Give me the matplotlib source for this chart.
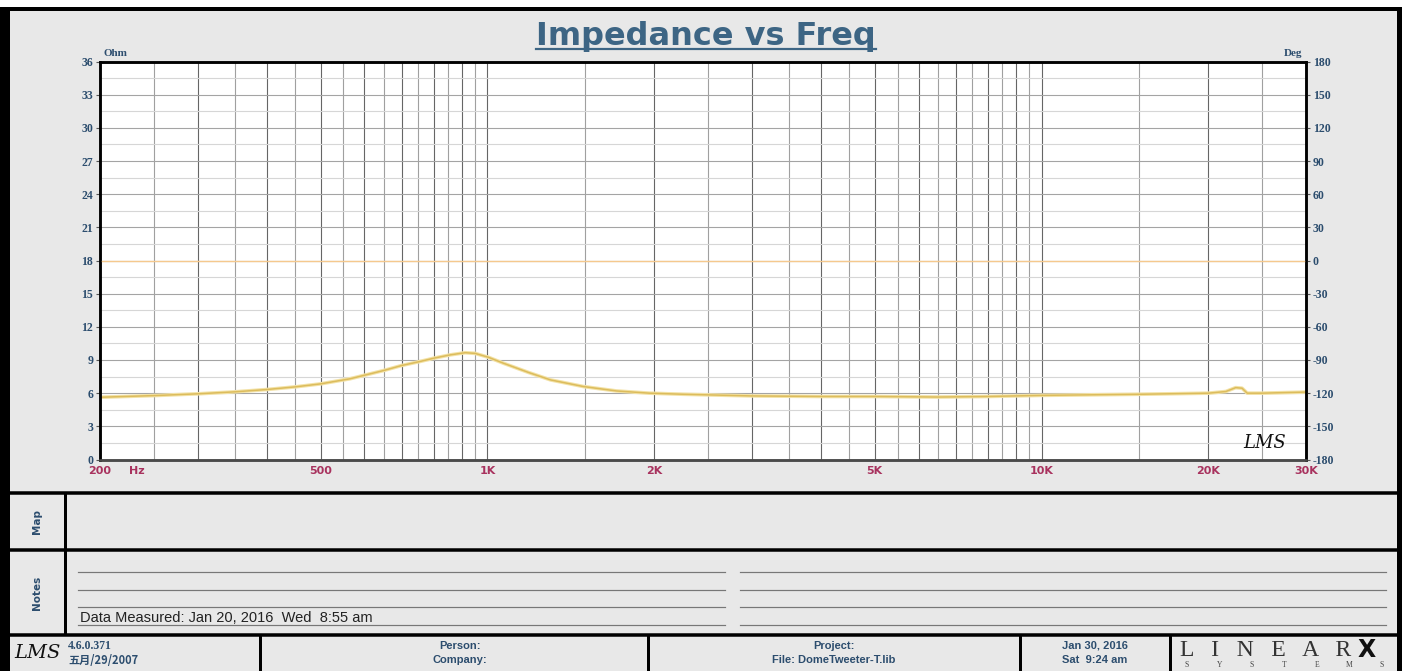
import matplotlib
matplotlib.use("Agg")
import matplotlib.pyplot as plt
import numpy as np
from matplotlib.patches import Rectangle

# impedance curve
freq_hz = [200, 250, 300, 350, 400, 450, 500, 565, 650, 700, 755, 800, 856, 912, 950,
           1004, 1070, 1190, 1300, 1490, 1710, 1960, 2260, 3000, 4000, 5000, 6500, 8000,
           10000, 15000, 20000, 21500, 22400, 23000, 23500, 25000, 30000]
impedance_ohm = [5.63, 5.78, 5.94, 6.12, 6.33, 6.57, 6.84, 7.3, 8.05, 8.5, 8.86, 9.16, 9.46, 9.66, 9.6,
                 9.25, 8.7, 7.85, 7.2, 6.6, 6.2, 6.0, 5.9, 5.75, 5.7, 5.7, 5.65, 5.7,
                 5.8, 5.9, 6.0, 6.15, 6.5, 6.45, 6.0, 6.0, 6.1]
phase_freq_hz = [200, 1000, 10000, 30000]
phase_deg = [0, 0, 0, 0]

x_tick_hz = [200, 500, 1000, 2000, 5000, 10000, 20000, 30000]
x_tick_labels = ["200", "500", "1K", "2K", "5K", "10K", "20K", "30K"]
ohm_ticks = list(range(0, 37, 3))
deg_ticks = list(range(-180, 181, 30))

W, H = 1411, 671
PANEL = "#e8e8e8"
BLUE = "#2c4d6e"
MAROON = "#a8325e"


def fig_box(x0, y0, x1, y1):
    return [x0 / W, 1 - y1 / H, (x1 - x0) / W, (y1 - y0) / H]


def px(v):
    # pixels -> points at dpi 100
    return v * 0.72


fig = plt.figure(figsize=(W / 100, H / 100), dpi=100)
fig.patch.set_facecolor("white")

bg = fig.add_axes([0, 0, 1, 1])
bg.set_xlim(0, W)
bg.set_ylim(H, 0)
bg.axis("off")

# frame and panels
bg.add_patch(Rectangle((10, 10), 1387, 661, facecolor=PANEL, edgecolor="none"))
bg.add_patch(Rectangle((0, 7), 10, 664, facecolor="black", edgecolor="none"))
bg.add_patch(Rectangle((1397, 7), 5, 664, facecolor="black", edgecolor="none"))
bg.add_patch(Rectangle((0, 7), 1402, 4, facecolor="black", edgecolor="none"))
for y in (493, 550, 635):
    bg.plot([10, 1397], [y, y], color="black", lw=px(3.5), solid_capstyle="butt")
bg.plot([65, 65], [493, 635], color="black", lw=px(3), solid_capstyle="butt")
for x in (260, 648, 1020, 1170):
    bg.plot([x, x], [635, 671], color="black", lw=px(3), solid_capstyle="butt")

# title, underlined to its own width
title = bg.text(706, 36, "Impedance vs Freq", ha="center", va="center", fontsize=23,
                fontweight="bold", color="#3d6584", family="DejaVu Sans")
fig.canvas.draw()
tb = title.get_window_extent().transformed(bg.transData.inverted())
bg.plot([tb.x0, tb.x1], [49, 49], color="#3d6584", lw=px(2.2))

bg.text(104, 54, "Ohm", ha="left", va="center", fontsize=8, fontweight="bold",
        color=BLUE, family="Liberation Serif")
bg.text(1302, 54, "Deg", ha="right", va="center", fontsize=8, fontweight="bold",
        color=BLUE, family="Liberation Serif")

# map / notes row labels
bg.text(37, 521, "Map", rotation=90, ha="center", va="center", fontsize=7.5,
        fontweight="bold", color=BLUE, family="Liberation Sans Narrow")
bg.text(37, 593, "Notes", rotation=90, ha="center", va="center", fontsize=7.5,
        fontweight="bold", color=BLUE, family="Liberation Sans Narrow")
for y in (572, 589.5, 607, 625):
    bg.plot([78, 725], [y, y], color="#777777", lw=px(1.2))
    bg.plot([740, 1386], [y, y], color="#777777", lw=px(1.2))
bg.text(80, 622, "Data Measured: Jan 20, 2016  Wed  8:55 am", ha="left", va="baseline",
        fontsize=10.5, color="#222222", family="Liberation Sans")

# footer
bg.text(37, 653, "LMS", ha="center", va="center", fontsize=14, style="italic",
        color="#111111", family="DejaVu Serif")
bg.text(68, 646, "4.6.0.371", ha="left", va="center", fontsize=8.5, fontweight="bold",
        color=BLUE, family="Liberation Serif")
bg.text(68, 660, "五月/29/2007", ha="left", va="center", fontsize=8, fontweight="bold",
        color=BLUE, family=["Noto Sans CJK SC", "Liberation Serif"])
footer_cells = [(460, "Person:", "Company:"),
                (834, "Project:", "File: DomeTweeter-T.lib"),
                (1095, "Jan 30, 2016", "Sat  9:24 am")]
for cx, top, bottom in footer_cells:
    bg.text(cx, 646, top, ha="center", va="center", fontsize=8, fontweight="bold",
            color=BLUE, family="Liberation Sans")
    bg.text(cx, 660, bottom, ha="center", va="center", fontsize=8, fontweight="bold",
            color=BLUE, family="Liberation Sans")
bg.text(1180, 650, "L   I   N   E   A   R", ha="left", va="center", fontsize=17,
        color="#333333", family="Liberation Serif")
bg.text(1367, 650, "X", ha="center", va="center", fontsize=17, fontweight="bold",
        color="#111111", family="DejaVu Sans")
for i, ch in enumerate("SYSTEMS"):
    bg.text(1187 + i * 32.5, 665, ch, ha="center", va="center", fontsize=5.5,
            color="#444444", family="Liberation Serif")

# main plot
ax = fig.add_axes(fig_box(100, 61.5, 1306, 459.5))
ax.set_zorder(2)
ax.set_facecolor("white")
ax.set_xscale("log")
ax.set_xlim(200, 30000)
ax.set_ylim(0, 36)

grid_dark = list(range(300, 1000, 100)) + list(range(1000, 10001, 1000)) + [20000]
grid_light = (list(range(250, 1000, 100)) + list(range(1500, 10000, 1000))
              + [15000, 25000])
for f in grid_light:
    ax.axvline(f, color="#a0a0a0", lw=0.8, zorder=1)
for f in grid_dark:
    ax.axvline(f, color="#666666", lw=0.8, zorder=1)
for v in np.arange(1.5, 36, 3):
    ax.axhline(v, color="#d6d6d6", lw=0.8, zorder=1)
for v in ohm_ticks[1:-1]:
    ax.axhline(v, color="#a4a4a4", lw=0.8, zorder=1)

ax.plot(freq_hz, impedance_ohm, color="#f3e2a6", lw=2.6, zorder=3,
        solid_capstyle="round")
ax.plot(freq_hz, impedance_ohm, color="#dcbc5c", lw=1.1, zorder=4)

ax.set_xticks(x_tick_hz)
ax.set_xticklabels(x_tick_labels)
ax.xaxis.set_minor_locator(matplotlib.ticker.NullLocator())
ax.set_yticks(ohm_ticks)
ax.set_yticklabels([str(v) for v in ohm_ticks])
ax.tick_params(axis="x", length=0, pad=5, labelsize=8, labelcolor=MAROON)
ax.tick_params(axis="y", length=3, width=0.8, color="#555555", pad=2, labelsize=8.5,
               labelcolor=BLUE)
for lab in ax.get_xticklabels():
    lab.set_fontweight("bold")
    lab.set_family("DejaVu Sans")
for lab in ax.get_yticklabels():
    lab.set_fontweight("bold")
    lab.set_family("Liberation Serif")
ax.annotate("Hz", xy=(200, 0), xycoords=("data", "axes fraction"), xytext=(21, -5),
            textcoords="offset points", ha="left", va="top", fontsize=8,
            fontweight="bold", color=MAROON, family="DejaVu Sans")

ax.text(0.966, 0.042, "LMS", transform=ax.transAxes, ha="center", va="center",
        fontsize=13, style="italic", color="#111111", family="DejaVu Serif", zorder=5)

ax2 = ax.twinx()
ax2.set_ylim(-180, 180)
ax2.plot(phase_freq_hz, phase_deg, color="#f5c98e", lw=1.0, zorder=3)
ax2.set_yticks(deg_ticks)
ax2.set_yticklabels([str(v) for v in deg_ticks])
ax2.tick_params(axis="y", length=3, width=0.8, color="#555555", pad=2, labelsize=8.5,
                labelcolor=BLUE)
for lab in ax2.get_yticklabels():
    lab.set_fontweight("bold")
    lab.set_family("Liberation Serif")

for a in (ax, ax2):
    for name, sp in a.spines.items():
        sp.set_color("black" if name != "bottom" else "#4a4a4a")
        sp.set_linewidth(1.8)
        sp.set_zorder(6)

fig.savefig("out.png", dpi=100, facecolor=fig.get_facecolor())
